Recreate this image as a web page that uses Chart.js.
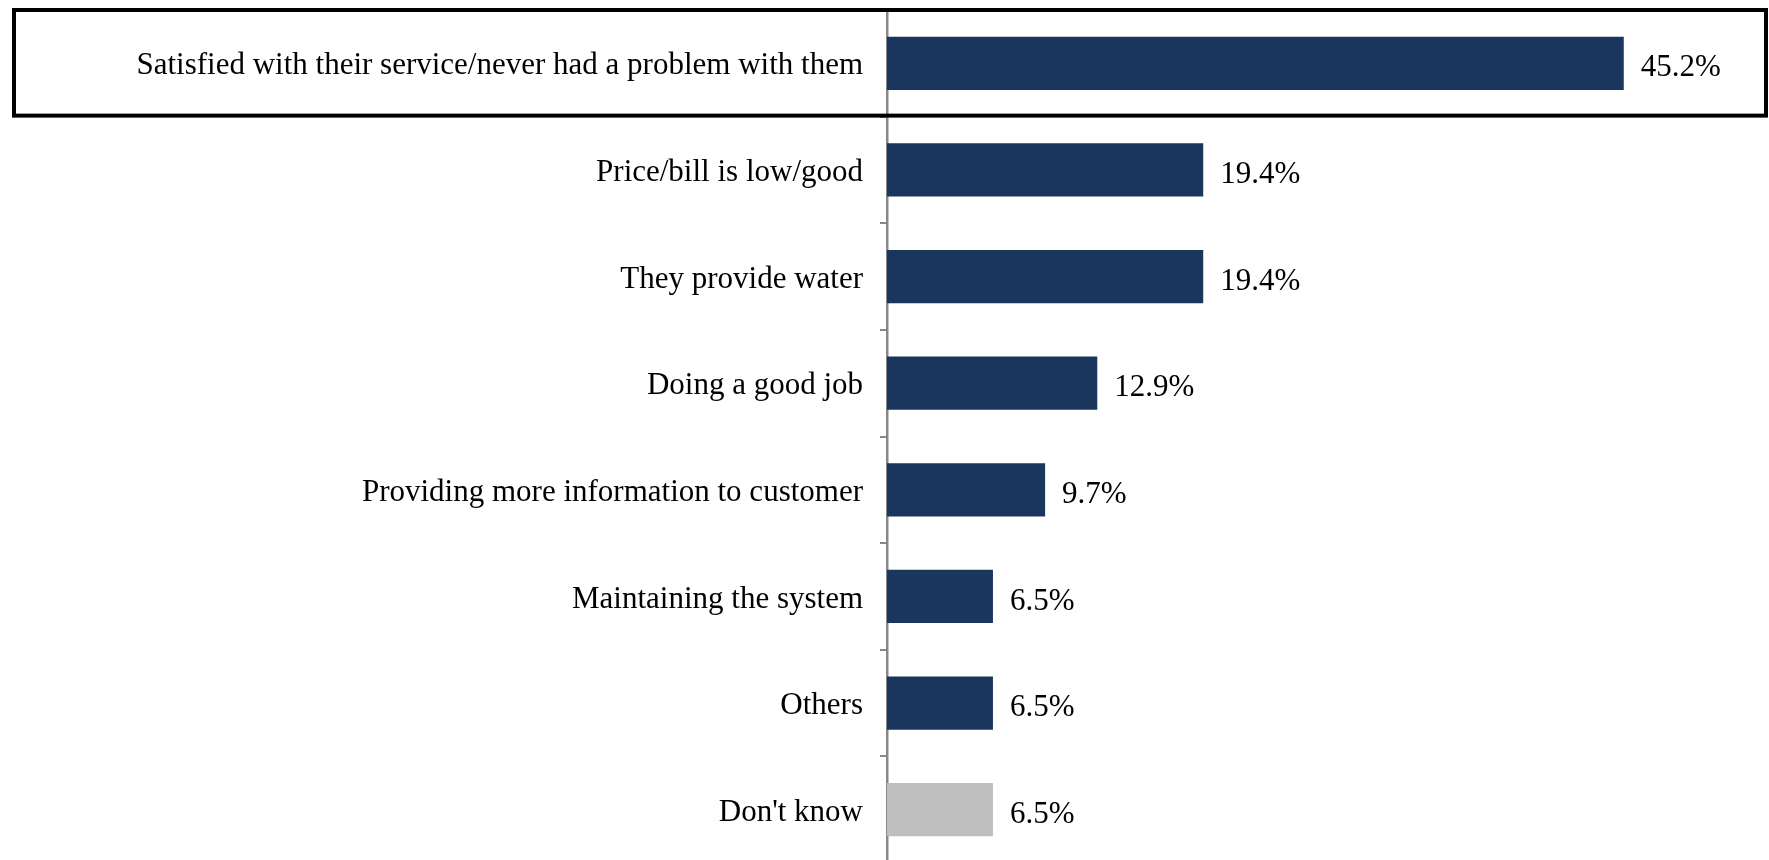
<!DOCTYPE html>
<html>
<head>
<meta charset="utf-8">
<script src="https://cdn.jsdelivr.net/npm/chart.js@4"></script>
<style>
  html, body { margin: 0; padding: 0; background: #fff; overflow: hidden; }
  /* plot runs a little past the bottom edge, as in the reference */
  #wrap { width: 1769px; height: 863px; position: relative; }
</style>
</head>
<body>
<div id="wrap"><canvas id="chart"></canvas></div>
<script>
// data
const categories = [
    'Satisfied with their service/never had a problem with them',
    'Price/bill is low/good',
    'They provide water',
    'Doing a good job',
    'Providing more information to customer',
    'Maintaining the system',
    'Others',
    "Don't know"
];
const shares = [45.2, 19.4, 19.4, 12.9, 9.7, 6.5, 6.5, 6.5];
const barColors = ['#1B365D', '#1B365D', '#1B365D', '#1B365D', '#1B365D', '#1B365D', '#1B365D', '#BFBFBF'];
const axisMax = 50;

const FONT = '"Liberation Serif", "Times New Roman", serif';
const FONT_SIZE = 31;

// percent labels at the end of every bar
const valueLabels = {
    id: 'valueLabels',
    afterDatasetsDraw(chart) {
        const ctx = chart.ctx;
        const meta = chart.getDatasetMeta(0);
        ctx.save();
        ctx.font = FONT_SIZE + 'px ' + FONT;
        ctx.fillStyle = '#000';
        ctx.textAlign = 'left';
        ctx.textBaseline = 'middle';
        meta.data.forEach((bar, i) => {
            ctx.fillText(shares[i].toFixed(1) + '%', bar.x + 17, bar.y + 5);
        });
        ctx.restore();
    }
};

// black box round the first row
const highlightBox = {
    id: 'highlightBox',
    afterDraw(chart) {
        const ctx = chart.ctx;
        const y = chart.scales.y;
        const step = (y.bottom - y.top) / categories.length;
        ctx.save();
        ctx.strokeStyle = '#000';
        ctx.lineWidth = 4;
        ctx.strokeRect(14, y.top, chart.width - 17, step - 1);
        ctx.restore();
    }
};

new Chart(document.getElementById('chart'), {
    type: 'bar',
    data: {
        labels: categories,
        datasets: [{
            data: shares,
            backgroundColor: barColors,
            borderWidth: 0,
            barPercentage: 0.5,
            categoryPercentage: 1.0
        }]
    },
    options: {
        indexAxis: 'y',
        responsive: true,
        maintainAspectRatio: false,
        animation: false,
        layout: { padding: { left: 0, right: 67, top: 10, bottom: 0 } },
        plugins: {
            legend: { display: false },
            tooltip: { enabled: false }
        },
        scales: {
            x: { display: false, min: 0, max: axisMax },
            y: {
                afterFit(scale) {
                    scale.width = 887;
                    scale.paddingTop = 0;
                    scale.paddingBottom = 0;
                },
                grid: {
                    offset: true,
                    drawOnChartArea: false,
                    drawTicks: true,
                    tickLength: 7,
                    color: '#888',
                    lineWidth: 2
                },
                border: { display: true, color: '#888', width: 2.5 },
                ticks: {
                    color: '#000',
                    padding: 17,
                    labelOffset: 3,
                    font: { family: FONT, size: FONT_SIZE }
                }
            }
        }
    },
    plugins: [valueLabels, highlightBox]
});
</script>
</body>
</html>
